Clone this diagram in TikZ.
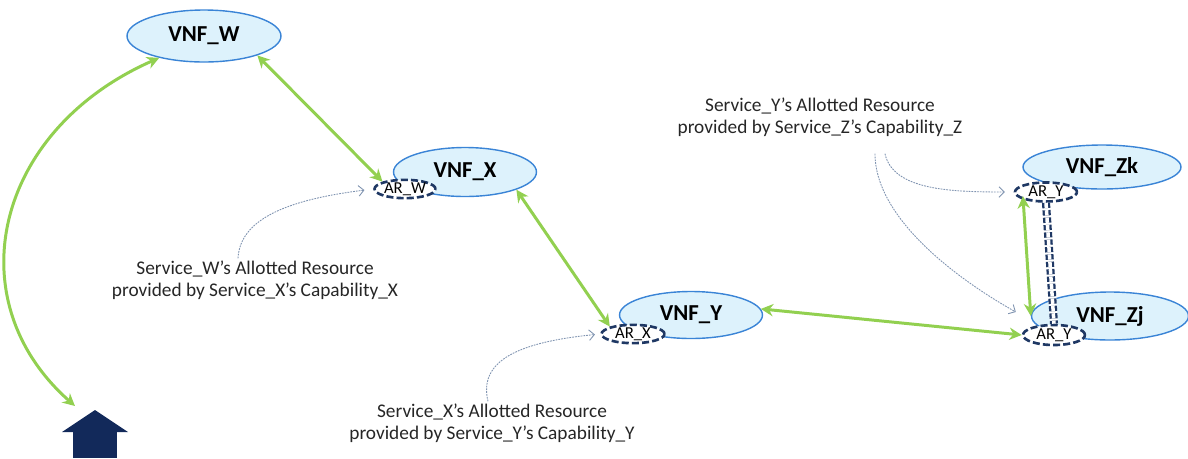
\documentclass[tikz,border=0pt]{standalone}
\usepackage{fontspec}
\setmainfont{Carlito}
\usepackage{xcolor}
\usetikzlibrary{arrows.meta,shapes.geometric,positioning}
\definecolor{vnffill}{HTML}{DDF2FC}
\definecolor{vnfline}{HTML}{3A84D6}
\definecolor{navy}{HTML}{1F3864}
\definecolor{housenavy}{HTML}{12295A}
\definecolor{linkgreen}{HTML}{92D050}
\definecolor{hintblue}{HTML}{7F93B0}
\definecolor{notetext}{HTML}{262626}

\begin{document}
\begin{tikzpicture}[x=0.02cm,y=-0.02cm,
  vnf/.style={ellipse,draw=vnfline,fill=vnffill,line width=0.8pt,inner sep=0pt,font=\fontsize{13}{15}\selectfont\bfseries},
  ar/.style={ellipse,draw=navy,fill=white,line width=1.5pt,dash pattern=on 4pt off 1.8pt,inner sep=0pt,font=\fontsize{9.5}{10}\selectfont},
  note/.style={align=center,inner sep=1pt,text=notetext,font=\fontsize{11}{12.8}\selectfont},
  link/.style={draw=linkgreen,line width=1.7pt,{Stealth[length=7pt,width=7pt]}-{Stealth[length=7pt,width=7pt]}},
  hint/.style={draw=hintblue,line width=0.5pt,dash pattern=on 1pt off 0.6pt,-{Straight Barb[length=3pt,width=6pt]}}]
  \useasboundingbox (0,0) rectangle (1188,458); %页面大小与原图一致
  % VNF 节点
  \node[vnf,minimum width=3.08cm,minimum height=1.04cm] (VNFW) at (204,36) {VNF\_W};
  \node[vnf,minimum width=2.86cm,minimum height=0.98cm] (VNFX) at (465,172) {VNF\_X};
  \node[vnf,minimum width=2.86cm,minimum height=0.94cm] (VNFY) at (691,315) {VNF\_Y};
  \node[vnf,minimum width=3.16cm,minimum height=0.88cm] (VNFZk) at (1102,167) {VNF\_Zk};
  \node[vnf,minimum width=3.14cm,minimum height=0.96cm] (VNFZj) at (1110,316) {VNF\_Zj};
  % 分配的资源
  \node[ar,minimum width=1.22cm,minimum height=0.36cm] (ARW) at (405,189) {AR\_W};
  \node[ar,minimum width=1.26cm,minimum height=0.36cm] (ARX) at (633,334) {AR\_X};
  \node[ar,minimum width=1.24cm,minimum height=0.38cm] (ARYk) at (1046,192) {AR\_Y};
  \node[ar,minimum width=1.24cm,minimum height=0.40cm] (ARYj) at (1054,335) {AR\_Y};
  \draw[white,line width=4.5pt] (ARYk.south) -- (ARYj.north);
  \draw[navy,line width=1.3pt,dash pattern=on 3pt off 1.2pt,double=white,double distance=2pt] (ARYk.south) -- (ARYj.north);
  % 房子
  \fill[housenavy] (62,432) -- (95,410) -- (128,432) -- cycle;
  \fill[housenavy] (73,431) rectangle (117,458);
  \coordinate (hometop) at (75,406);
  % 绿色连线
  \draw[link] (VNFW.206) .. controls (-5,130) and (-45,300) .. (hometop);
  \draw[link] (VNFW.-20) -- (ARW.north west);
  \draw[link] (VNFX.-19) -- (ARX.north west);
  \draw[link] (VNFY.5) -- (ARYj.west);
  \draw[link,shorten <=-2pt] (ARYk.south west) -- (VNFZj.west);
  % 说明文字
  \node[note] (noteW) at (255,280) {Service\_W’s Allotted Resource\\provided by Service\_X’s Capability\_X};
  \node[note] (noteX) at (492,423) {Service\_X’s Allotted Resource\\provided by Service\_Y’s Capability\_Y};
  \node[note] (noteZ) at (820,117) {Service\_Y’s Allotted Resource\\provided by Service\_Z’s Capability\_Z};
  \draw[hint,shorten >=5pt] ([xshift=-0.34cm]noteW.north) .. controls (240,220) and (285,200) .. (ARW.west);
  \draw[hint,shorten >=3pt] ([xshift=-0.08cm]noteX.north) .. controls (478,360) and (520,342) .. (ARX.west);
  \draw[hint,shorten >=5pt] ([xshift=1.3cm,yshift=-0.3cm]noteZ.south) .. controls (893,190) and (950,192) .. (ARYk.west);
  \draw[hint] ([xshift=1.1cm,yshift=-0.3cm]noteZ.south) .. controls (875,215) and (950,275) .. ([xshift=-0.3cm,yshift=0.08cm]VNFZj.west);
\end{tikzpicture}
\end{document}
